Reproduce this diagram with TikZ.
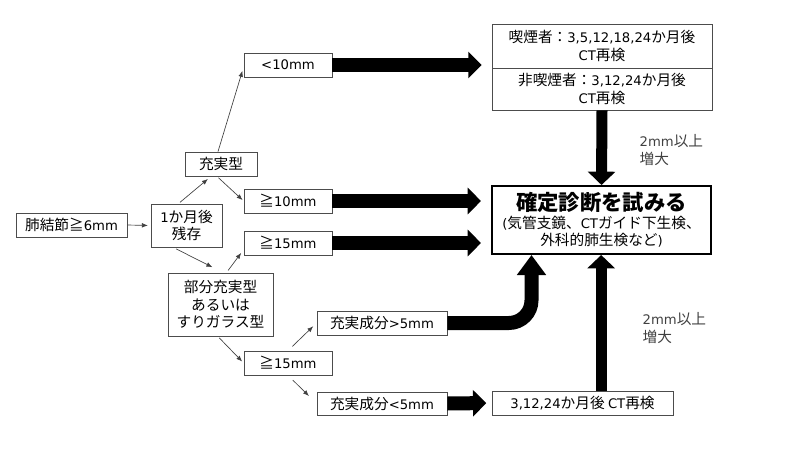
\documentclass[tikz,border=0pt]{standalone}
\usepackage{fontspec}
\setmainfont{Noto Sans CJK JP}
\newfontfamily\vfont{DejaVu Sans}[Scale=0.9]
\usetikzlibrary{arrows.meta}
\begin{document}
\begin{tikzpicture}[x=0.75pt,y=-0.75pt,
    every node/.style={font=\fontsize{11}{13}\selectfont},
    box/.style={draw=black!70,line width=0.6pt,inner sep=0pt,align=center},
    branch/.style={draw=black!75,line width=0.5pt,-{Latex[length=4.5pt,width=3.5pt]}},
    fat/.style={line width=10.5pt,-{Triangle[length=10pt,width=19.5pt]}},
    fatv/.style={line width=8.25pt,-{Triangle[length=10pt,width=20.25pt]}},
    note/.style={text=black!75,align=left,anchor=west}]
    \useasboundingbox (0,0) rectangle (800,450);
    \node[box,minimum width=83.25pt,minimum height=18pt] (hai) at (71.5,225) {肺結節≧{\vfont 6mm}};
    \node[box,minimum width=53.25pt,minimum height=32.25pt] (ikka) at (186.5,225.5) {{\vfont 1}か月後\\残存};
    \node[box,minimum width=54pt,minimum height=18pt] (jujitsu) at (221,164) {充実型};
    \node[box,minimum width=78.75pt,minimum height=47.25pt] (bubun) at (220.5,304.5) {部分充実型\\あるいは\\すりガラス型};
    \node[box,minimum width=66pt,minimum height=18pt] (lt10) at (288,65) {\vfont <10mm};
    \node[box,minimum width=66pt,minimum height=18pt] (ge10) at (288,201) {≧{\vfont 10mm}};
    \node[box,minimum width=66pt,minimum height=18pt] (ge15a) at (288,243) {≧{\vfont 15mm}};
    \node[box,minimum width=66pt,minimum height=18pt] (ge15b) at (288,363) {≧{\vfont 15mm}};
    \node[box,minimum width=97.5pt,minimum height=18pt] (gt5) at (382,323) {充実成分{\vfont >5mm}};
    \node[box,minimum width=97.5pt,minimum height=17.25pt] (lt5) at (382,403.5) {充実成分{\vfont <5mm}};
    \node[box,minimum width=135.75pt,minimum height=18pt] (saiken) at (582.5,403) {{\vfont 3,12,24}か月後 {\vfont CT}再検};
    \node[box,minimum width=165pt,minimum height=33pt] (smoker1) at (602,46) {喫煙者：{\vfont 3,5,12,18,24}か月後\\{\vfont CT}再検};
    \node[box,minimum width=165pt,minimum height=31.5pt] (smoker2) at (602,89) {非喫煙者：{\vfont 3,12,24}か月後\\{\vfont CT}再検};
    \node[box,draw=black,line width=1.5pt,minimum width=164.25pt,minimum height=51pt] (kakutei) at (601.5,220)
        {{\fontsize{16}{18}\selectfont\bfseries 確定診断を試みる}\\{\vfont (}気管支鏡、{\vfont CT}ガイド下生検、\\外科的肺生検など{\vfont )}};
    \node[note] (note1) at (635,150) {{\vfont 2mm}以上\\増大};
    \node[note] (note2) at (638,328) {{\vfont 2mm}以上\\増大};

    \draw[branch,shorten >=2pt] (hai.east) -- (ikka.west);
    \draw[branch,shorten <=1.5pt,shorten >=3pt] ([xshift=-6pt]ikka.north) -- ([xshift=-7.5pt]jujitsu.south);
    \draw[branch,shorten <=2.5pt,shorten >=9pt] ([xshift=-10pt]ikka.south) -- ([xshift=2pt]bubun.north);
    \draw[branch,shorten >=3pt] ([xshift=-2.25pt]jujitsu.north) -- ([yshift=-1.5pt]lt10.west);
    \draw[branch,shorten <=1.5pt,shorten >=1pt] ([xshift=-3pt]jujitsu.south) -- (ge10.west);
    \draw[branch,shorten <=2pt,shorten >=3pt] ([xshift=4.5pt]bubun.north) -- ([yshift=-5pt]ge15a.west);
    \draw[branch,shorten <=1.5pt,shorten >=1.5pt] ([xshift=-2pt]bubun.south) -- (ge15b.west);
    \draw[branch,shorten <=4.5pt,shorten >=3.5pt] (ge15b.north) -- (gt5.west);
    \draw[branch,shorten <=5pt,shorten >=8pt] (ge15b.south) -- (lt5.west);

    \draw[fat,shorten >=7.5pt] (lt10.east) -- (lt10.east -| smoker1.west);
    \draw[fat,shorten >=7.5pt] (ge10.east) -- (ge10.east -| kakutei.west);
    \draw[fat,shorten >=7.5pt] (ge15a.east) -- (ge15a.east -| kakutei.west);
    \draw[fat,shorten >=4pt] (lt5.east) -- (saiken.west);
    \draw[line width=10.5pt,rounded corners=17pt,-{Triangle[length=15pt,width=21pt]}]
        (gt5.east) -| ([xshift=-52.5pt]kakutei.south);
    \draw[fatv] (smoker2.south) -- (kakutei.north);
    \draw[fatv] ([xshift=14pt]saiken.north) -- ([xshift=14pt]saiken.north |- kakutei.south);
\end{tikzpicture}
\end{document}
